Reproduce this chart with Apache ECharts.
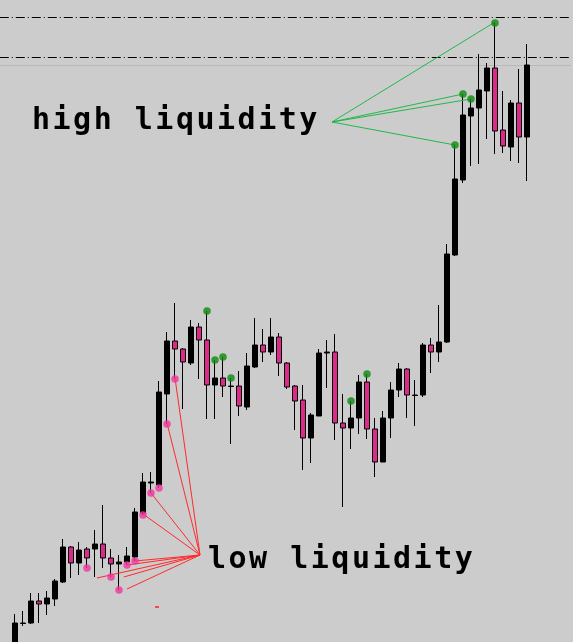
<!DOCTYPE html>
<html>
<head>
<meta charset="utf-8">
<script src="https://cdn.jsdelivr.net/npm/echarts@6/dist/echarts.min.js"></script>
<style>
html,body{margin:0;padding:0;background:#cccccc;}
#c{width:573px;height:642px;}
</style>
</head>
<body>
<div id="c"></div>
<script>
// ---- DATA (arbitrary price units) ----
const bars = Array.from({length: 65}, (_, i) => 'B' + (i + 1));
const opens  = [54,76.5,77,99,96,101,118,153,137,151,151,156,142,136,138,143,187,217,215,306,359,351,337,373,360,315,322,313.5,314,293,333,355,348,363,337,314,300,262,284,347,348,277,272,282,318,271,238,282,310,331,304.5,305,355,348,358,445,520,584,592,609,632,570,553,597,563];
const closes = [77,77,99,96,102,119,153,137,150,142,156,142,136,138,144,188,218,218,308,359,351,338,373,360,315,322,314,314,294,334,355,348,363,337,313,299,262,285,347,348,277,272,282,318,271,238,282,310,331,305,305,355,348,358,446,521,585,592,610,632,569,554,597,563,635];
const lows   = [52,74,76,77,85,94,117,122,125,132,123,132,123,110,135,139,185,207,212,276,321,291,335,321,281,281,303,256,284,290,332,338,345,324,311,270,230,237,284,312,260,193,251,266,261,223,238,262,303,282,274,303,327,338,357,444,517,534,536,561,546,547,539,537,519];
const highs  = [86,89,107,107,109,121,161,154,158,153,170,195,151,145,153,192,227,228,319,368,397,352,380,377,389,340,343,322,329,347,382,371,382,367,338,315,315,287,351,360,366,306,299,325,326,282,289,318,337,332,320,357,362,395,456,555,606,601,646,637,677,609,600,631,656];

const highLiquidityBars = [24,25,26,27,42,44,55,56,57,60];
const lowLiquidityBars  = [9,12,13,14,15,16,17,18,19,20];

const highAnchor = [39.625, 578];
const highTargets = [[60,678],[56,606],[57,601],[55,555]];
const lowAnchor = [23.125, 145];
const lowTargets = [[10.25,122],[13.6,123],[14,135],[15,139],[14,111],[16,186],[17,207],[19,277],[20,322]];

const levelPrices = [682.5, 642.5];
const separatorPrice = 634.5;
const strayMark = [[17.75, 93]];

const highLabel = 'high liquidity';
const lowLabel = 'low liquidity';

// letter spacing for the monospace annotation text
(function(){
  const proto = CanvasRenderingContext2D.prototype;
  const orig = proto.fillText;
  proto.fillText = function(t, x, y, m){
    if ('letterSpacing' in this) {
      this.letterSpacing = (this.font && this.font.indexOf('DejaVu Sans Mono') >= 0) ? '2.5px' : '0px';
    }
    return m === undefined ? orig.call(this, t, x, y) : orig.call(this, t, x, y, m);
  };
})();

const PINK_BODY = '#da2a8a';
const PINK_DOT = '#f2369c';
const GREEN_DOT = '#0c8a0c';
const GREEN_LINE = '#22b84a';
const RED_LINE = '#ff2a2a';

const candleData = opens.map((o, i) => [o, closes[i], lows[i], highs[i]]);

const chart = echarts.init(document.getElementById('c'), null, {renderer: 'canvas'});
chart.setOption({
  backgroundColor: '#cccccc',
  animation: false,
  grid: {left: 11, width: 520, top: 0, height: 642},
  xAxis: [
    {type: 'category', data: bars, show: false, boundaryGap: true},
    {type: 'value', min: -0.5, max: 64.5, show: false}
  ],
  yAxis: {type: 'value', min: 58, max: 700, show: false, splitLine: {show: false}},
  series: [
    {
      type: 'lines', coordinateSystem: 'cartesian2d', xAxisIndex: 1, yAxisIndex: 0,
      clip: false, silent: true, z: 1,
      lineStyle: {color: '#000000', width: 1, type: [9, 3, 1, 3], opacity: 1},
      data: levelPrices.map(p => ({coords: [[-1.9, p], [69.5, p]]}))
    },
    {
      type: 'lines', coordinateSystem: 'cartesian2d', xAxisIndex: 1, yAxisIndex: 0,
      clip: false, silent: true, z: 1,
      lineStyle: {color: '#b9b9b9', width: 1, type: 'solid', opacity: 1},
      data: [{coords: [[-1.9, separatorPrice], [69.5, separatorPrice]]}]
    },
    {
      type: 'candlestick', xAxisIndex: 0, yAxisIndex: 0, barWidth: 6, z: 3,
      itemStyle: {color: '#000000', color0: PINK_BODY, borderColor: '#000000', borderColor0: '#000000', borderColorDoji: '#000000', borderWidth: 1},
      data: candleData
    },
    {
      type: 'lines', coordinateSystem: 'cartesian2d', xAxisIndex: 1, yAxisIndex: 0,
      clip: false, silent: true, z: 4,
      lineStyle: {color: GREEN_LINE, width: 1, opacity: 1},
      data: highTargets.map(t => ({coords: [highAnchor, t]}))
    },
    {
      type: 'lines', coordinateSystem: 'cartesian2d', xAxisIndex: 1, yAxisIndex: 0,
      clip: false, silent: true, z: 4,
      lineStyle: {color: RED_LINE, width: 1, opacity: 1},
      data: lowTargets.map(t => ({coords: [lowAnchor, t]}))
    },
    {
      type: 'scatter', xAxisIndex: 1, yAxisIndex: 0, z: 5, symbolSize: 7.5,
      itemStyle: {color: GREEN_DOT},
      data: highLiquidityBars.map(i => [i, highs[i]])
    },
    {
      type: 'scatter', xAxisIndex: 1, yAxisIndex: 0, z: 5, symbolSize: 7.5,
      itemStyle: {color: PINK_DOT},
      data: lowLiquidityBars.map(i => [i, lows[i]])
    },
    {
      type: 'scatter', xAxisIndex: 1, yAxisIndex: 0, z: 5, symbol: 'rect', symbolSize: [4, 2],
      itemStyle: {color: RED_LINE},
      data: strayMark
    }
  ],
  graphic: [
    {type: 'text', x: 32, y: 121.6, z: 10, style: {text: highLabel, fill: '#000000', font: 'bold 30px "DejaVu Sans Mono"', verticalAlign: 'middle', align: 'left'}},
    {type: 'text', x: 208, y: 560.6, z: 10, style: {text: lowLabel, fill: '#000000', font: 'bold 30px "DejaVu Sans Mono"', verticalAlign: 'middle', align: 'left'}}
  ]
});
</script>
</body>
</html>
